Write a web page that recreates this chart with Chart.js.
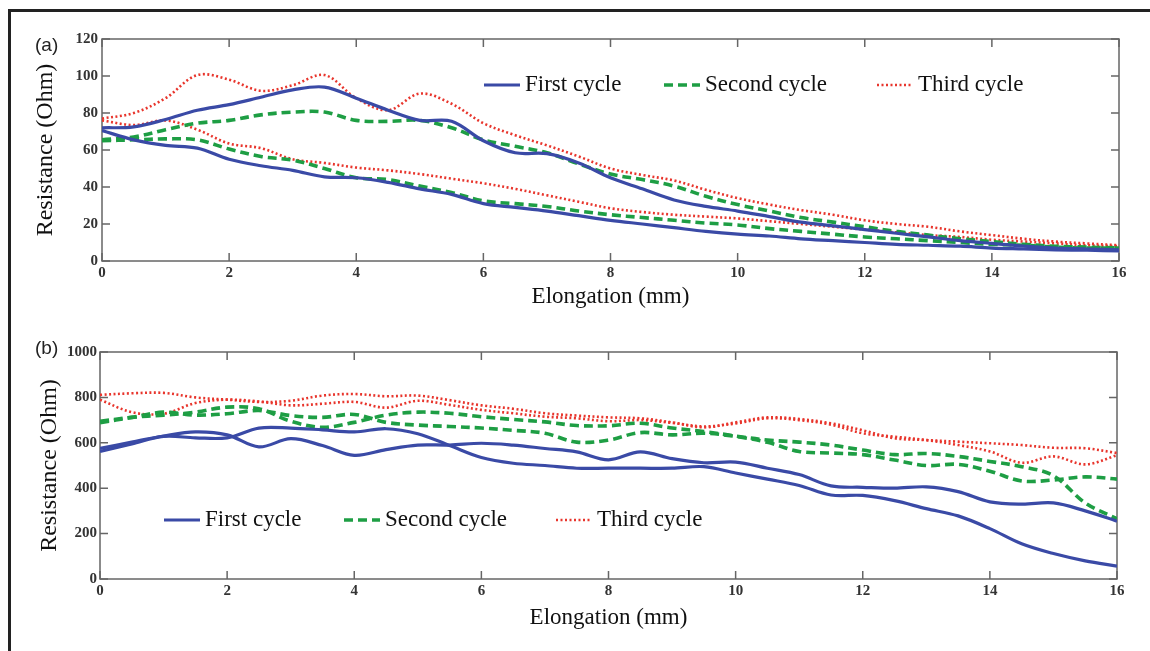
<!DOCTYPE html>
<html>
<head>
<meta charset="utf-8">
<script src="https://cdn.jsdelivr.net/npm/chart.js@4.4.1/dist/chart.umd.min.js"></script>
<style>
  body { margin: 0; background: #fff; width: 1150px; height: 651px; overflow: hidden; position: relative; }
  #frame { position: absolute; left: 8px; top: 9px; width: 1160px; height: 660px; border-top: 3px solid #222; border-left: 3px solid #222; }
  canvas { position: absolute; left: 0; }
  .tag { position: absolute; font-family: "Liberation Sans", Arial, sans-serif; font-size: 19px; color: #222; }
</style>
</head>
<body>
<div id="frame"></div>
<canvas id="chartA" width="1150" height="320" style="top:0"></canvas>
<canvas id="chartB" width="1150" height="331" style="top:320px"></canvas>
<div class="tag" style="left:35px;top:34px">(a)</div>
<div class="tag" style="left:35px;top:337px">(b)</div>
<script>
/* elongation grid (mm), shared by every curve */
const elong = [0, 0.5, 1, 1.5, 2, 2.5, 3, 3.5, 4, 4.5, 5, 5.5, 6, 6.5, 7, 7.5, 8,
               8.5, 9, 9.5, 10, 10.5, 11, 11.5, 12, 12.5, 13, 13.5, 14, 14.5, 15, 15.5, 16];
const cycleNames = ['First cycle', 'Second cycle', 'Third cycle'];
const xTicks = [0, 2, 4, 6, 8, 10, 12, 14, 16];
const yTicksA = [0, 20, 40, 60, 80, 100, 120];
const yTicksB = [0, 200, 400, 600, 800, 1000];

/* (a) resistance, Ohm */
const a1Up   = [72, 72.5, 76.5, 81.5, 84.5, 88.5, 92.5, 94, 88, 81.5, 76, 75.5, 65, 58.5, 58, 53, 45,
                39, 33, 29.5, 27, 24, 21, 19, 17, 15, 13, 11, 9.5, 8, 7, 6.5, 6];
const a1Down = [70.5, 65.5, 62.5, 61, 55, 51.5, 49, 45.5, 45, 42.5, 39, 36, 31, 29, 27, 24.5, 22,
                20, 18, 16, 14.5, 13.5, 12, 11, 10, 9, 8.5, 8, 7, 6.5, 6, 5.8, 5.5];
const a2Up   = [65.5, 67, 71, 74.5, 76, 79, 80.5, 80.5, 76, 75.5, 76, 72, 65.5, 62, 58.5, 52.5, 47,
                44, 40.5, 35, 30.5, 27, 23.5, 21, 18.5, 16, 14, 12, 10.5, 9, 8, 7.5, 7];
const a2Down = [65, 65.5, 66, 65.5, 60.5, 56.5, 54.5, 50, 45, 44, 40.5, 37, 32.5, 31, 29.5, 27, 25,
                23.5, 22, 20.5, 19.5, 17.5, 16, 14.5, 13, 12, 11, 10, 9, 8.5, 7.5, 7, 7];
const a3Up   = [77, 80, 88, 100.5, 98, 92, 95, 100.5, 88, 81.5, 90.5, 85, 74.5, 68, 62.5, 56.5, 50,
                46.5, 43.5, 38.5, 34, 30.5, 27.5, 25, 22, 20, 18.5, 16, 14, 12, 10.5, 9.5, 8.5];
const a3Down = [76, 73.5, 76, 71, 63.5, 61, 55, 53, 50.5, 49, 47, 44.5, 42, 39, 35.5, 32, 28.5,
                26.5, 25, 24, 23, 21.5, 20, 18.5, 17, 15.5, 14, 13, 11.5, 10.5, 9.5, 8.5, 8];

/* (b) resistance, Ohm */
const b1Up   = [575, 603, 630, 648, 635, 582, 618, 588, 545, 570, 590, 590, 598, 590, 575, 560, 525,
                560, 530, 512, 515, 488, 460, 410, 404, 400, 406, 385, 340, 330, 335, 300, 255];
const b1Down = [562, 595, 628, 622, 622, 665, 665, 657, 648, 662, 640, 588, 535, 510, 500, 488, 488,
                488, 488, 495, 467, 440, 412, 370, 368, 345, 310, 278, 222, 155, 112, 80, 57];
const b2Up   = [695, 712, 722, 735, 757, 750, 695, 668, 690, 722, 735, 730, 715, 703, 692, 676, 675,
                686, 665, 650, 630, 612, 603, 590, 568, 548, 553, 540, 518, 495, 455, 335, 265];
const b2Down = [688, 712, 735, 722, 728, 742, 720, 712, 725, 690, 678, 672, 665, 655, 642, 603, 612,
                645, 635, 642, 628, 602, 562, 555, 548, 524, 500, 505, 475, 432, 436, 450, 440];
const b3Up   = [811, 818, 820, 800, 790, 780, 785, 808, 815, 805, 808, 788, 765, 750, 730, 720, 712,
                708, 690, 668, 690, 712, 705, 686, 655, 620, 612, 605, 598, 590, 578, 576, 555];
const b3Down = [790, 735, 728, 775, 790, 782, 765, 772, 780, 755, 785, 767, 745, 730, 715, 708, 695,
                700, 688, 672, 685, 708, 700, 680, 642, 627, 612, 590, 562, 512, 540, 505, 545];

const blue = '#3a4aa6', green = '#1e9e44', red = '#e8352c';
const serif = '"Liberation Serif", "Times New Roman", serif';

function pts(arr) {
  return elong.map((x, i) => ({x: x, y: arr[i]}));
}

function line(label, arr, color, width, dash) {
  return {
    label: label, data: pts(arr), borderColor: color, borderWidth: width,
    borderDash: dash, pointRadius: 0, tension: 0.35, fill: false
  };
}

function cycles(s1, s2, s3) {
  return [
    line(cycleNames[0], s1[0], blue, 3.2, []),
    line(cycleNames[0], s1[1], blue, 3.2, []),
    line(cycleNames[1], s2[0], green, 3.6, [9, 5]),
    line(cycleNames[1], s2[1], green, 3.6, [9, 5]),
    line(cycleNames[2], s3[0], red, 2.6, [2, 2.5]),
    line(cycleNames[2], s3[1], red, 2.6, [2, 2.5])
  ];
}

/* box round the plot with inward ticks on all four sides */
const boxPlugin = {
  id: 'box',
  beforeDatasetsDraw(chart) {
    const {ctx, chartArea: a, scales} = chart;
    const len = 8;
    ctx.save();
    ctx.strokeStyle = '#666';
    ctx.lineWidth = 1.5;
    ctx.strokeRect(a.left, a.top, a.right - a.left, a.bottom - a.top);
    ctx.beginPath();
    scales.x.ticks.forEach(t => {
      const px = scales.x.getPixelForValue(t.value);
      ctx.moveTo(px, a.bottom); ctx.lineTo(px, a.bottom - len);
      ctx.moveTo(px, a.top); ctx.lineTo(px, a.top + len);
    });
    scales.y.ticks.forEach(t => {
      const py = scales.y.getPixelForValue(t.value);
      ctx.moveTo(a.left, py); ctx.lineTo(a.left + len, py);
      ctx.moveTo(a.right, py); ctx.lineTo(a.right - len, py);
    });
    ctx.stroke();
    ctx.restore();
  }
};

/* legend drawn inside the plot, one entry per cycle */
const keyPlugin = {
  id: 'key',
  afterDraw(chart, args, opts) {
    const ctx = chart.ctx;
    ctx.save();
    ctx.font = '23px ' + serif;
    ctx.textBaseline = 'middle';
    opts.items.forEach(it => {
      const ds = chart.data.datasets[it.ds];
      ctx.strokeStyle = ds.borderColor;
      ctx.lineWidth = ds.borderWidth;
      ctx.setLineDash(ds.borderDash);
      ctx.beginPath();
      ctx.moveTo(it.x, opts.y);
      ctx.lineTo(it.x + 36, opts.y);
      ctx.stroke();
      ctx.setLineDash([]);
      ctx.fillStyle = '#111';
      ctx.fillText(ds.label, it.x + 41, opts.y);
    });
    ctx.restore();
  }
};

function makeOptions(c) {
  const tickFont = {family: serif, size: 15, weight: 'bold'};
  return {
    responsive: false,
    animation: false,
    events: [],
    layout: {padding: {left: 0, top: c.top, right: c.right, bottom: 0}},
    plugins: {
      legend: {display: false},
      tooltip: {enabled: false},
      key: {y: c.keyY, items: c.keyItems}
    },
    scales: {
      x: {
        type: 'linear', min: 0, max: 16,
        afterBuildTicks: s => { s.ticks = xTicks.map(v => ({value: v})); },
        ticks: {padding: 3, font: tickFont, color: '#333', callback: v => String(v)},
        grid: {display: false, drawTicks: false},
        border: {display: false},
        title: {display: true, text: 'Elongation (mm)', color: '#111',
                font: {family: serif, size: 23}, padding: {top: 0, bottom: c.xTitlePad}},
        afterFit: s => { s.height = c.xH; }
      },
      y: {
        type: 'linear', min: 0, max: c.yTicks[c.yTicks.length - 1],
        afterBuildTicks: s => { s.ticks = c.yTicks.map(v => ({value: v})); },
        ticks: {padding: c.yTickPad, font: tickFont, color: '#333', callback: v => String(v)},
        grid: {display: false, drawTicks: false},
        border: {display: false},
        title: {display: true, text: 'Resistance (Ohm)', color: '#111',
                font: {family: serif, size: 24}, padding: {top: c.yTitlePad, bottom: 0}},
        afterFit: s => { s.width = c.yW; }
      }
    }
  };
}

new Chart(document.getElementById('chartA'), {
  type: 'line',
  data: {datasets: cycles([a1Up, a1Down], [a2Up, a2Down], [a3Up, a3Down])},
  options: makeOptions({
    top: 39, right: 31, xH: 59, yW: 102, xTitlePad: 9, yTitlePad: 31, yTickPad: 4,
    yTicks: yTicksA, keyY: 85,
    keyItems: [{ds: 0, x: 484}, {ds: 2, x: 664}, {ds: 4, x: 877}]
  }),
  plugins: [boxPlugin, keyPlugin]
});

new Chart(document.getElementById('chartB'), {
  type: 'line',
  data: {datasets: cycles([b1Up, b1Down], [b2Up, b2Down], [b3Up, b3Down])},
  options: makeOptions({
    top: 32, right: 33, xH: 72, yW: 100, xTitlePad: 19, yTitlePad: 35, yTickPad: 3,
    yTicks: yTicksB, keyY: 200,
    keyItems: [{ds: 0, x: 164}, {ds: 2, x: 344}, {ds: 4, x: 556}]
  }),
  plugins: [boxPlugin, keyPlugin]
});
</script>
</body>
</html>
